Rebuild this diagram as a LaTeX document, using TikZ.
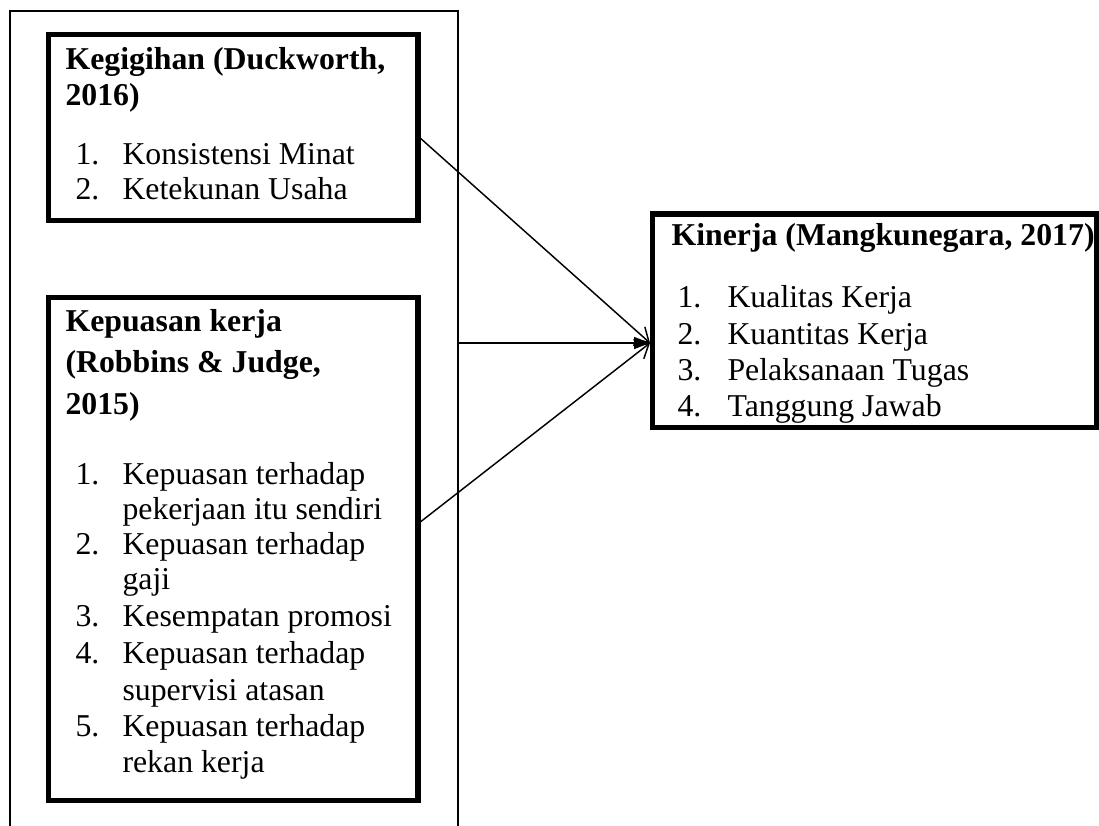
\documentclass[tikz,border=0pt]{standalone}
\usepackage{fontspec}
\setmainfont{Liberation Serif}
\usetikzlibrary{arrows.meta,fit}
\begin{document}
\begin{tikzpicture}[x=0.3774pt,y=-0.3774pt,
  box/.style={draw,line width=1.9pt,inner sep=0pt},
  frame/.style={draw,line width=0.75pt},
  txt/.style={anchor=base west,inner sep=0pt,font=\fontsize{12}{13.8}\selectfont},
  ttl/.style={txt,font=\fontsize{12}{13.8}\selectfont\bfseries},
  link/.style={line width=0.55pt},
  barb/.style={link,-{Straight Barb[length=5pt,width=6.5pt]}},
  tri/.style={link,-{Triangle[length=6pt,width=4.5pt]}}]
\useasboundingbox (0,0) rectangle (1099,825);
% outer frame (open at the bottom)
\coordinate (o1) at (10,827);
\coordinate (o2) at (10,11);
\coordinate (o3) at (458,11);
\coordinate (o4) at (458,827);
\draw[frame] (o1) -- (o2) -- (o3) -- (o4);
% boxes
\node[box,fit={(48.5,34.5) (418,220.5)}] (k1) {};
\node[box,fit={(48.5,297.5) (418,800.5)}] (k2) {};
\node[box,fit={(652.5,214) (1097,427.5)}] (k3) {};
% box 1 text
\node[ttl] (t1a) at (65,69) {Kegigihan (Duckworth,};
\node[ttl] (t1b) at (65,105) {2016)};
\node[txt] (n11) at (75,164) {1.};
\node[txt] (i11) at (122,164) {Konsistensi Minat};
\node[txt] (n12) at (75,199) {2.};
\node[txt] (i12) at (122,199) {Ketekunan Usaha};
% box 2 text
\node[ttl] (t2a) at (65,331) {Kepuasan kerja};
\node[ttl] (t2b) at (65,372) {(Robbins \& Judge,};
\node[ttl] (t2c) at (65,414) {2015)};
\node[txt] (n21) at (75,484) {1.};
\node[txt] (i21) at (122,484) {Kepuasan terhadap};
\node[txt] (i21b) at (122,519) {pekerjaan itu sendiri};
\node[txt] (n22) at (75,554) {2.};
\node[txt] (i22) at (122,554) {Kepuasan terhadap};
\node[txt] (i22b) at (122,589) {gaji};
\node[txt] (n23) at (75,626) {3.};
\node[txt] (i23) at (122,626) {Kesempatan promosi};
\node[txt] (n24) at (75,663) {4.};
\node[txt] (i24) at (122,663) {Kepuasan terhadap};
\node[txt] (i24b) at (122,700) {supervisi atasan};
\node[txt] (n25) at (75,736) {5.};
\node[txt] (i25) at (122,736) {Kepuasan terhadap};
\node[txt] (i25b) at (122,772) {rekan kerja};
% box 3 text
\node[ttl] (t3) at (671,245) {Kinerja (Mangkunegara, 2017)};
\node[txt] (n31) at (677,307) {1.};
\node[txt] (i31) at (727,307) {Kualitas Kerja};
\node[txt] (n32) at (677,344) {2.};
\node[txt] (i32) at (727,344) {Kuantitas Kerja};
\node[txt] (n33) at (677,380) {3.};
\node[txt] (i33) at (727,380) {Pelaksanaan Tugas};
\node[txt] (n34) at (677,416) {4.};
\node[txt] (i34) at (727,416) {Tanggung Jawab};
% connectors
\coordinate (s1) at (419,137);
\coordinate (s2) at (458,343);
\coordinate (s3) at (419,523);
\coordinate (tip) at (650,343);
\draw[barb] (s1) -- (tip);
\draw[tri] (s2) -- (tip);
\draw[barb] (s3) -- (tip);
\end{tikzpicture}
\end{document}
